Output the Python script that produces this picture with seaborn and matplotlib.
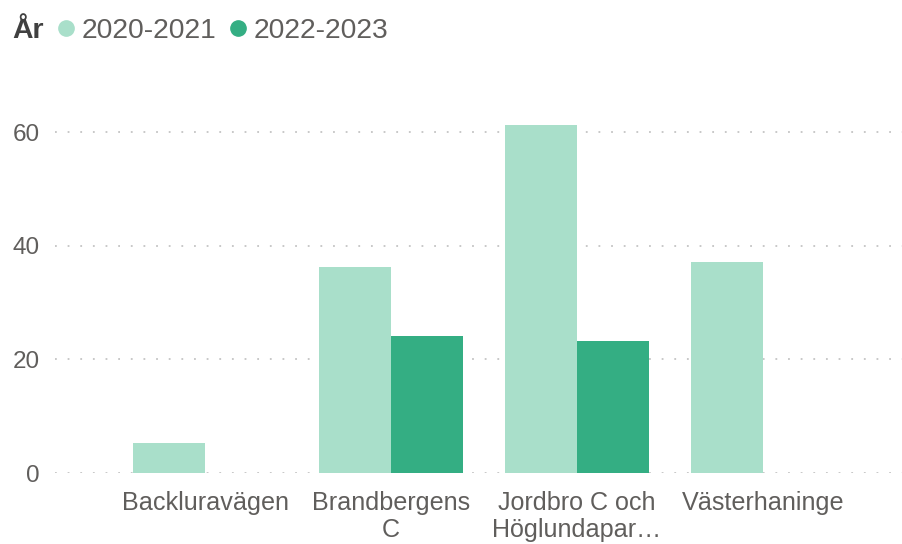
import matplotlib
matplotlib.use("Agg")
import matplotlib.pyplot as plt
import seaborn as sns
import pandas as pd
from matplotlib.lines import Line2D

# ---- data ----
categories = ["Backluravägen", "Brandbergens C", "Jordbro C och Höglundaparken", "Västerhaninge"]
tick_labels = ["Backluravägen", "Brandbergens\nC", "Jordbro C och\nHöglundapar…", "Västerhaninge"]
years = ["2020-2021", "2022-2023"]
values_2020_2021 = [5.2, 36.3, 61.3, 37.1]
values_2022_2023 = [None, 24.2, 23.2, None]
y_ticks = [0, 20, 40, 60]
colors = ["#A9DFCA", "#34AE83"]

rows = []
for cat, v in zip(categories, values_2020_2021):
    if v is not None:
        rows.append({"Område": cat, "År": years[0], "Värde": v})
for cat, v in zip(categories, values_2022_2023):
    if v is not None:
        rows.append({"Område": cat, "År": years[1], "Värde": v})
df = pd.DataFrame(rows)

sns.set_theme(style="white")
plt.rcParams["font.family"] = ["Liberation Sans", "DejaVu Sans"]

W, H = 902, 544
fig = plt.figure(figsize=(W / 100, H / 100), dpi=100)
x0, x1 = 55, 902
y0, y1 = 473, 109.5
ax = fig.add_axes([x0 / W, (H - y0) / H, (x1 - x0) / W, (y0 - y1) / H])

sns.barplot(data=df, x="Område", y="Värde", hue="År", order=categories,
            hue_order=years, palette=colors, width=0.775, gap=0,
            saturation=1, errorbar=None, ax=ax, legend=False, linewidth=0)

ax.set_ylim(0, 64)
ax.set_xlim((x0 - 205) / 186, (x1 - 205) / 186)
ax.set_yticks(y_ticks)
ax.set_xticks(range(len(categories)))
ax.set_xticklabels(tick_labels, linespacing=1.15)
ax.set_xlabel("")
ax.set_ylabel("")
for s in ax.spines.values():
    s.set_visible(False)
ax.yaxis.grid(True, color="#C4C4C4", linestyle=(0, (1, 6)), linewidth=1.3)
ax.xaxis.grid(False)
ax.set_axisbelow(True)
ax.tick_params(axis="y", length=0, pad=11, labelsize=17.5, labelcolor="#605E5C")
ax.tick_params(axis="x", length=0, pad=13, labelsize=18.1, labelcolor="#605E5C")

# legend
fig.text(12 / W, 1 - 31 / H, "År", fontsize=20.5, fontweight="bold",
         color="#404040", va="center", ha="left")
handles = [Line2D([0], [0], marker="o", linestyle="", markersize=11,
                  markerfacecolor=c, markeredgecolor=c) for c in colors]
fig.legend(handles, years, loc="center left", bbox_to_anchor=(55 / W, 1 - 31 / H),
           ncol=2, frameon=False, fontsize=20.3, labelcolor="#605E5C",
           handlelength=0.8, handletextpad=0.15, columnspacing=0.35,
           borderpad=0, borderaxespad=0)

fig.savefig("out.png", dpi=100, facecolor="white")
